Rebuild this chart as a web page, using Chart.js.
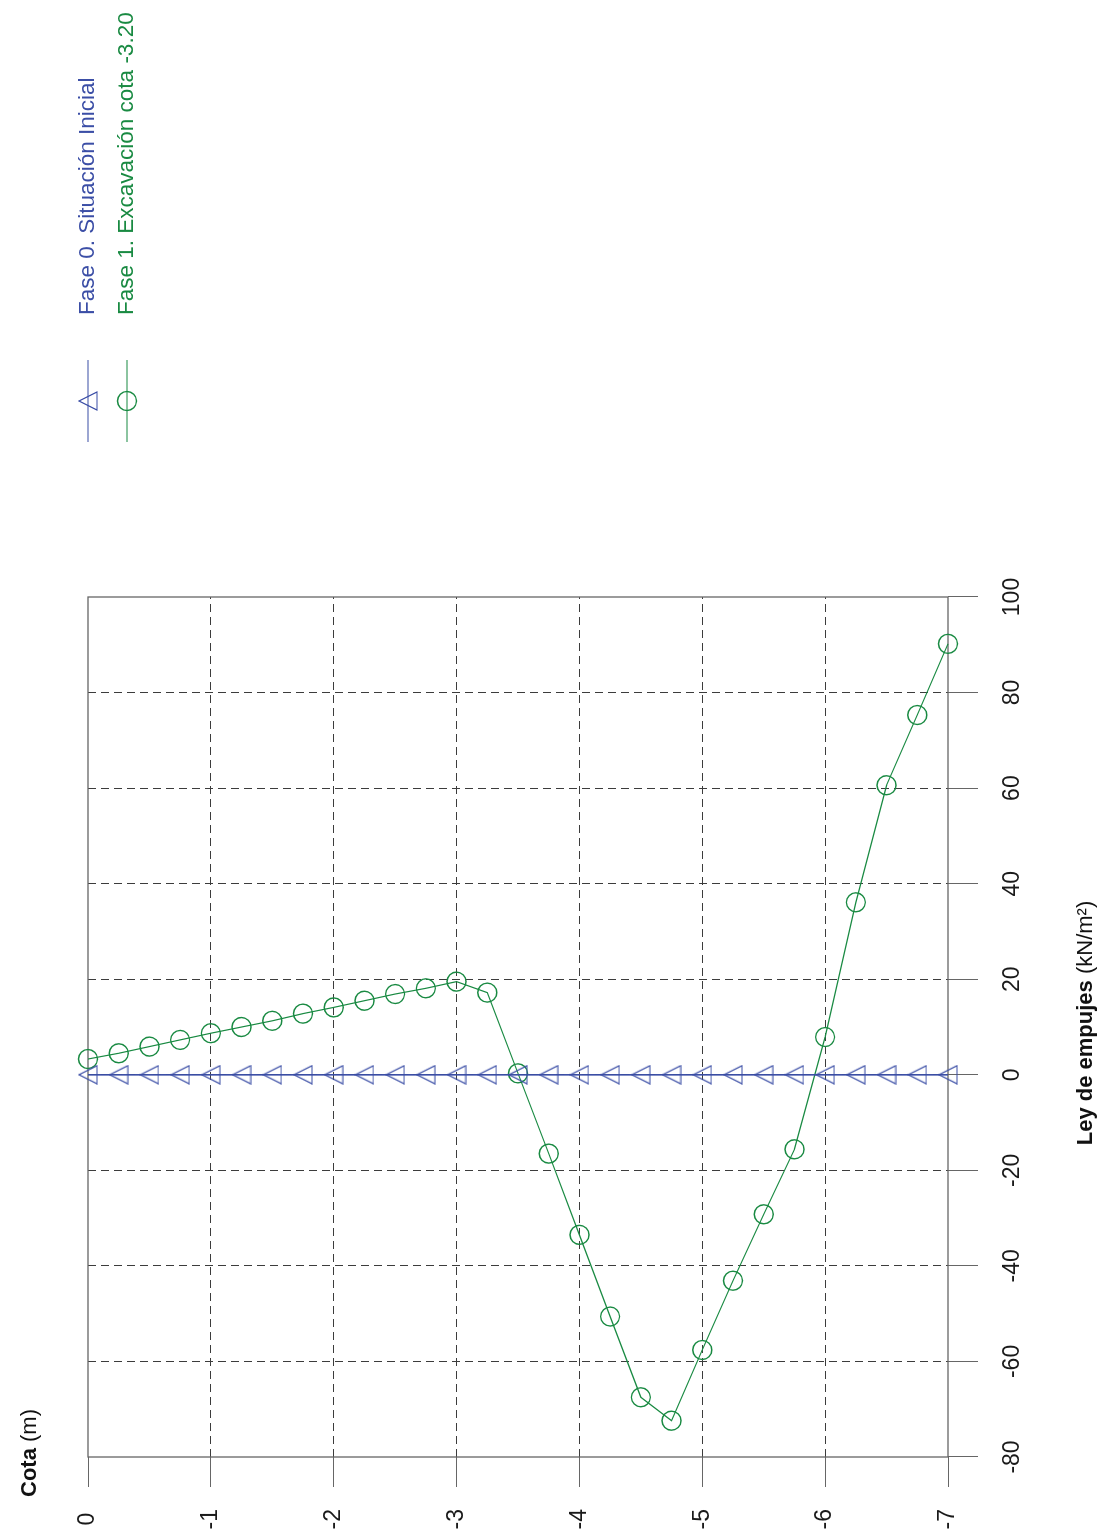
<!DOCTYPE html>
<html>
<head>
<meta charset="utf-8">
<title>Ley de empujes</title>
<script src="https://cdn.jsdelivr.net/npm/chart.js@4.4.0/dist/chart.umd.min.js"></script>
<style>
  html, body { margin: 0; padding: 0; background: #fff; overflow: hidden; }
  /* el gráfico se dibuja apaisado y se gira 90° para la página vertical */
  #marco {
    position: absolute; left: 0; top: 0;
    width: 1539px; height: 1103px;
    transform-origin: 0 0;
    transform: translate(0, 1539px) rotate(-90deg);
  }
</style>
</head>
<body>
<div id="marco"><canvas id="empujes" width="1539" height="1103"></canvas></div>
<script>
// cotas de cálculo (m)
const cotas = [0, -0.25, -0.5, -0.75, -1, -1.25, -1.5, -1.75, -2, -2.25, -2.5, -2.75, -3,
  -3.25, -3.5, -3.75, -4, -4.25, -4.5, -4.75, -5, -5.25, -5.5, -5.75, -6, -6.25, -6.5, -6.75, -7];

// empujes (kN/m²) en cada cota
const empujeFase0 = [0, 0, 0, 0, 0, 0, 0, 0, 0, 0, 0, 0, 0,
  0, 0, 0, 0, 0, 0, 0, 0, 0, 0, 0, 0, 0, 0, 0, 0];
const empujeFase1 = [3.3, 4.5, 5.9, 7.3, 8.7, 10.0, 11.3, 12.8, 14.1, 15.5, 16.9, 18.1, 19.5,
  17.2, 0.3, -16.5, -33.5, -50.6, -67.5, -72.4, -57.6, -43.1, -29.2, -15.6, 7.9, 36.1, 60.6, 75.3, 90.2];

const nombresFases = ['Fase 0. Situación Inicial', 'Fase 1. Excavación cota -3.20'];

const ticksEmpuje = [-80, -60, -40, -20, 0, 20, 40, 60, 80, 100];
const ticksCota = [0, -1, -2, -3, -4, -5, -6, -7];

const AZUL = '#3b4ea6';
const VERDE = '#198a42';
const FUENTE = '"Liberation Sans", Arial, Helvetica, sans-serif';

Chart.defaults.font.family = FUENTE;

// triángulo hueco algo más alto que equilátero
function crearTriangulo(color) {
  const c = document.createElement('canvas');
  c.width = 20; c.height = 20;
  const g = c.getContext('2d');
  g.strokeStyle = color;
  g.lineWidth = 1.2;
  g.beginPath();
  g.moveTo(10, 1);
  g.lineTo(19, 19);
  g.lineTo(1, 19);
  g.closePath();
  g.stroke();
  return c;
}
const triangulo = crearTriangulo(AZUL);

const puntos = (valores) => cotas.map((c, i) => ({ x: valores[i], y: c }));

// las líneas de rejilla de los bordes las tapa el recuadro
const colorRejilla = (c) => {
  const s = c.scale;
  return (c.tick && (c.tick.value === s.min || c.tick.value === s.max)) ? 'rgba(0,0,0,0)' : '#3c3c3c';
};

// recuadro sólido alrededor del área de dibujo
const recuadro = {
  id: 'recuadro',
  beforeDatasetsDraw(chart) {
    const { ctx, chartArea: a } = chart;
    ctx.save();
    ctx.strokeStyle = '#666';
    ctx.lineWidth = 1.3;
    ctx.strokeRect(a.left, a.top, a.right - a.left, a.bottom - a.top);
    ctx.restore();
  }
};

// títulos de ejes (negrita + unidades) y leyenda con muestra de línea
const rotulos = {
  id: 'rotulos',
  afterDraw(chart) {
    const ctx = chart.ctx;
    const a = chart.chartArea;
    ctx.save();
    ctx.textBaseline = 'middle';
    ctx.fillStyle = '#111';

    const titulo = (negrita, normal, x, y, centrado) => {
      ctx.font = 'bold 22px ' + FUENTE;
      const w1 = ctx.measureText(negrita).width;
      ctx.font = '22px ' + FUENTE;
      const w2 = ctx.measureText(normal).width;
      let x0 = centrado ? x - (w1 + w2) / 2 : x;
      ctx.font = 'bold 22px ' + FUENTE;
      ctx.fillText(negrita, x0, y);
      ctx.font = '22px ' + FUENTE;
      ctx.fillText(normal, x0 + w1, y);
    };
    titulo('Cota', ' (m)', 42, 30, false);
    titulo('Ley de empujes', ' (kN/m²)', (a.left + a.right) / 2 + 4, 1086, true);

    chart.data.datasets.forEach((ds, i) => {
      const y = 88 + i * 39;
      ctx.strokeStyle = ds.borderColor;
      ctx.lineWidth = 1.2;
      ctx.beginPath();
      ctx.moveTo(1097, y);
      ctx.lineTo(1179, y);
      ctx.stroke();
      if (ds.pointStyle === 'circle') {
        ctx.lineWidth = ds.pointBorderWidth;
        ctx.beginPath();
        ctx.arc(1138, y, ds.pointRadius, 0, Math.PI * 2);
        ctx.stroke();
      } else {
        ctx.drawImage(ds.pointStyle, 1138 - 10, y - 10, 20, 20);
      }
      ctx.fillStyle = ds.borderColor;
      ctx.font = '22.5px ' + FUENTE;
      ctx.fillText(ds.label, 1224, y);
    });
    ctx.restore();
  }
};

const ctx = document.getElementById('empujes').getContext('2d');
new Chart(ctx, {
  type: 'scatter',
  data: {
    datasets: [
      {
        label: nombresFases[0],
        data: puntos(empujeFase0),
        showLine: true,
        clip: false,
        borderColor: AZUL,
        backgroundColor: 'transparent',
        borderWidth: 1,
        pointStyle: triangulo,
        pointRadius: 10,
        pointBorderWidth: 1.2
      },
      {
        label: nombresFases[1],
        data: puntos(empujeFase1),
        showLine: true,
        clip: false,
        borderColor: VERDE,
        backgroundColor: 'transparent',
        borderWidth: 1.2,
        pointStyle: 'circle',
        pointRadius: 9.5,
        pointBorderWidth: 1.4,
        pointBackgroundColor: 'transparent'
      }
    ]
  },
  options: {
    responsive: false,
    animation: false,
    events: [],
    layout: { padding: { left: 0, top: 88, right: 597, bottom: 0 } },
    plugins: {
      legend: { display: false },
      tooltip: { enabled: false }
    },
    scales: {
      x: {
        type: 'linear',
        position: 'bottom',
        min: -80,
        max: 100,
        afterBuildTicks: (s) => { s.ticks = ticksEmpuje.map(v => ({ value: v })); },
        afterFit: (s) => { s.height = 155; },
        grid: { color: colorRejilla, tickColor: '#666', lineWidth: 1, tickLength: 30 },
        border: { display: false, dash: [8, 5] },
        ticks: { color: '#1a1a1a', font: { size: 23 }, padding: 21, maxRotation: 0 }
      },
      y: {
        type: 'linear',
        position: 'left',
        min: -7,
        max: 0,
        afterBuildTicks: (s) => { s.ticks = ticksCota.map(v => ({ value: v })); },
        afterFit: (s) => { s.width = 82; },
        grid: { color: colorRejilla, tickColor: '#666', lineWidth: 1, tickLength: 30 },
        border: { display: false, dash: [8, 5] },
        ticks: { color: '#1a1a1a', font: { size: 23 }, padding: 22, crossAlign: 'center' }
      }
    }
  },
  plugins: [recuadro, rotulos]
});
</script>
</body>
</html>
